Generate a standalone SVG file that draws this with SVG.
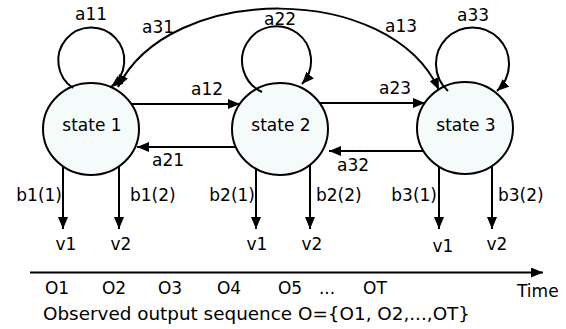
<svg xmlns="http://www.w3.org/2000/svg" width="566" height="329" viewBox="0 0 566 329">
<style>
text { font-family: "DejaVu Sans", Verdana, sans-serif; font-size: 17px; fill: #000; }
.m { text-anchor: middle; }
.e { text-anchor: end; }
.node { fill: #f5fafa; stroke: #000; stroke-width: 2; }
.c { fill: none; stroke: #000; stroke-width: 2; }
</style>
<defs>
<marker id="ah" viewBox="0 0 12 10" refX="12" refY="5" markerWidth="12" markerHeight="10" markerUnits="userSpaceOnUse" orient="auto">
<path d="M0,0 L12,5 L0,10 Z" fill="#000"/>
</marker>
<marker id="ahs" viewBox="0 0 12 10" refX="12" refY="5" markerWidth="12" markerHeight="10" markerUnits="userSpaceOnUse" orient="auto-start-reverse">
<path d="M0,0 L12,5 L0,10 Z" fill="#000"/>
</marker>
</defs>
<g id="state1">
<ellipse class="node" cx="91" cy="129" rx="48" ry="46"/>
<text class="m" x="92" y="131">state 1</text>
</g>
<g id="state2">
<ellipse class="node" cx="280" cy="129" rx="48" ry="46"/>
<text class="m" x="281" y="131">state 2</text>
</g>
<g id="state3">
<ellipse class="node" cx="465" cy="128" rx="48" ry="46"/>
<text class="m" x="466" y="131">state 3</text>
</g>
<g id="connectors">
<path class="c" d="M73,88 A33,33 0 1 1 111,87" marker-end="url(#ah)"/>
<path class="c" d="M262,92 A34.5,34.5 0 1 1 302,84" marker-end="url(#ah)"/>
<path class="c" d="M448,91 A36.5,36.5 0 1 1 497,91" marker-end="url(#ah)"/>
<path class="c" d="M118,87 C170,-18 390,-18 439,90" marker-start="url(#ahs)" marker-end="url(#ah)"/>
<path class="c" d="M131,104 L240,104" marker-end="url(#ah)"/>
<path class="c" d="M236,147 L137,147" marker-end="url(#ah)"/>
<path class="c" d="M320,103 L425,103" marker-end="url(#ah)"/>
<path class="c" d="M423,151 L329,151" marker-end="url(#ah)"/>
<path class="c" d="M63,166 L63,229" marker-end="url(#ah)"/>
<path class="c" d="M119,166 L119,229" marker-end="url(#ah)"/>
<path class="c" d="M256,168 L256,229" marker-end="url(#ah)"/>
<path class="c" d="M310,165 L310,229" marker-end="url(#ah)"/>
<path class="c" d="M439,167 L439,229" marker-end="url(#ah)"/>
<path class="c" d="M492,166 L492,229" marker-end="url(#ah)"/>
<path class="c" d="M30,272.5 L543,272.5" marker-end="url(#ah)"/>
</g>
<g id="labels">
<text class="m" x="91" y="20">a11</text>
<text class="m" x="280" y="25">a22</text>
<text class="m" x="473" y="21">a33</text>
<text class="m" x="158" y="33">a31</text>
<text class="m" x="401" y="32">a13</text>
<text class="m" x="207" y="95">a12</text>
<text class="m" x="168" y="166">a21</text>
<text class="m" x="395" y="94">a23</text>
<text class="m" x="353" y="171">a32</text>
<text class="e" x="62" y="201">b1(1)</text>
<text x="130" y="201">b1(2)</text>
<text class="e" x="255" y="201">b2(1)</text>
<text x="316" y="201">b2(2)</text>
<text class="e" x="437" y="201">b3(1)</text>
<text x="498" y="201">b3(2)</text>
<text class="m" x="66" y="250">v1</text>
<text class="m" x="121" y="250">v2</text>
<text class="m" x="257" y="250">v1</text>
<text class="m" x="312" y="250">v2</text>
<text class="m" x="443" y="252">v1</text>
<text class="m" x="497" y="250">v2</text>
<text class="m" x="57" y="294">O1</text>
<text class="m" x="114" y="294">O2</text>
<text class="m" x="170" y="294">O3</text>
<text class="m" x="229" y="294">O4</text>
<text class="m" x="290" y="294">O5</text>
<text class="m" x="327" y="294">...</text>
<text class="m" x="375" y="294">OT</text>
<text x="517" y="297">Time</text>
<text x="43" y="320" textLength="427" lengthAdjust="spacingAndGlyphs">Observed output sequence O={O1, O2,...,OT}</text>
</g>
</svg>
